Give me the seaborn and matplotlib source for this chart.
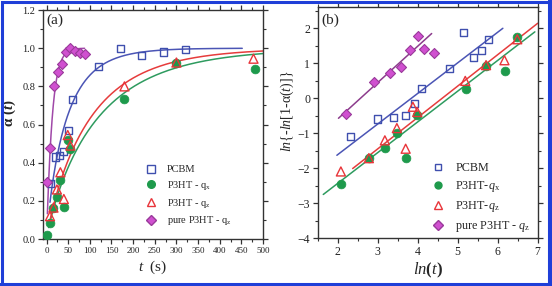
import numpy as np
import pandas as pd
import matplotlib
matplotlib.use("Agg")
import matplotlib.pyplot as plt
import seaborn as sns
from matplotlib.lines import Line2D
from matplotlib.patches import Rectangle
from matplotlib.ticker import MultipleLocator

# ---------------- data: panel (a) ----------------
pcbm_t = [10, 20, 30, 40, 50, 60, 120, 170, 220, 270, 320]
pcbm_a = [0.29, 0.43, 0.44, 0.46, 0.57, 0.73, 0.905, 1.0, 0.96, 0.98, 0.995]
qx_t = [0, 8, 16, 24, 32, 40, 49, 54, 180, 300, 482]
qx_a = [0.02, 0.085, 0.165, 0.22, 0.31, 0.17, 0.52, 0.47, 0.735, 0.925, 0.89]
qz_t = [8, 16, 24, 32, 40, 49, 55, 180, 300, 478]
qz_a = [0.12, 0.165, 0.26, 0.35, 0.21, 0.545, 0.49, 0.80, 0.925, 0.945]
pure_t = [0, 9, 18, 27, 36, 45, 55, 65, 77, 88]
pure_a = [0.30, 0.475, 0.80, 0.875, 0.915, 0.98, 1.0, 0.983, 0.975, 0.972]

# ---------------- data: panel (b) ----------------
pcbm_lnt = [2.31, 3.0, 3.39, 3.70, 3.92, 4.10, 4.79, 5.14, 5.39, 5.60, 5.77]
pcbm_y = [-1.10, -0.59, -0.54, -0.50, -0.16, 0.29, 0.86, 1.89, 1.17, 1.38, 1.67]
qx_lnt = [2.08, 2.78, 3.18, 3.48, 3.70, 3.99, 5.20, 5.70, 6.18, 6.49]
qx_y = [-2.46, -1.70, -1.41, -1.00, -1.71, -0.47, 0.26, 0.93, 0.79, 1.76]
qz_lnt = [2.08, 2.78, 3.18, 3.48, 3.70, 3.88, 3.99, 5.19, 5.71, 6.17, 6.49]
qz_y = [-2.09, -1.71, -1.20, -0.85, -1.44, -0.24, -0.39, 0.50, 0.95, 1.09, 1.69]
pure_lnt = [2.21, 2.91, 3.31, 3.58, 3.81, 4.00, 4.17, 4.41]
pure_y = [-0.45, 0.47, 0.73, 0.90, 1.38, 1.79, 1.40, 1.30]

# Avrami fit parameters (slope n, intercept ln k) (b) lines
series = ["PCBM", "P3HT-qx", "P3HT-qz", "pure P3HT-qz"]
avrami_n = [0.875, 0.879, 0.898, 1.04]
avrami_lnk = [-3.36, -4.19, -4.14, -2.67]
curve_tmin = [8, 5, 5, 2]
curve_tmax = [452, 500, 500, 88]
line_xmin = [1.98, 1.64, 2.375, 2.02]
line_xmax = [6.13, 6.93, 7.0, 4.35]

legend_a = ["PCBM", r"P3HT - q$_\mathrm{x}$", r"P3HT - q$_\mathrm{z}$", r"pure P3HT - q$_\mathrm{z}$"]
legend_b = ["PCBM", r"P3HT-$q_\mathrm{x}$", r"P3HT-$q_\mathrm{z}$", r"pure P3HT - $q_\mathrm{z}$"]

# ---------------- style ----------------
sns.set_style("ticks")
plt.rcParams["font.family"] = ["Liberation Serif", "DejaVu Serif"]
plt.rcParams["mathtext.fontset"] = "custom"
plt.rcParams["mathtext.rm"] = "Liberation Serif"
plt.rcParams["mathtext.it"] = "Liberation Serif:italic"
plt.rcParams["mathtext.bf"] = "Liberation Serif:bold"
plt.rcParams["mathtext.bfit"] = "Liberation Serif:bold:italic"

blue = "#3f4fae"
green = "#1e9a4c"
red = "#e8353a"
mag_face = "#d050d0"
mag_edge = "#993a9a"
line_cols = ["#4b55b5", "#2e9b5f", "#e63c3c", "#a048a8"]
line_cols_b = ["#4b55b5", "#2e9b5f", "#e63c3c", "#8c3c8c"]

fig = plt.figure(figsize=(5.52, 2.86), dpi=100)
fig.patch.set_facecolor("white")
axa = fig.add_axes([0.078, 0.164, 0.3985, 0.801])
axb = fig.add_axes([0.5755, 0.167, 0.3985, 0.807])

mstyles = [
    dict(marker="s", s=26, facecolor="none", edgecolor=blue, linewidth=1.0),
    dict(marker="o", s=40, facecolor=green, edgecolor=green, linewidth=0.5),
    dict(marker="^", s=42, facecolor="none", edgecolor=red, linewidth=1.0),
    dict(marker="D", s=26, facecolor=mag_face, edgecolor=mag_edge, linewidth=0.8),
]

# ---------------- panel (a) ----------------
for i in range(4):
    tt = np.linspace(curve_tmin[i], curve_tmax[i], 300)
    aa = 1 - np.exp(-np.exp(avrami_lnk[i] + avrami_n[i] * np.log(tt)))
    sns.lineplot(x=tt, y=aa, ax=axa, color=line_cols[i], linewidth=1.1, legend=False)

a_sets = [(pcbm_t, pcbm_a), (qx_t, qx_a), (qz_t, qz_a), (pure_t, pure_a)]
for (xs, ys), st in zip(a_sets, mstyles):
    sns.scatterplot(x=xs, y=ys, ax=axa, zorder=3, legend=False, **st)

axa.set_xlim(-8, 500)
axa.set_ylim(0, 1.2)
axa.xaxis.set_major_locator(MultipleLocator(50))
axa.xaxis.set_minor_locator(MultipleLocator(25))
axa.yaxis.set_major_locator(MultipleLocator(0.2))
axa.yaxis.set_minor_locator(MultipleLocator(0.1))
axa.set_yticks([0, 0.2, 0.4, 0.6, 0.8, 1.0, 1.2])
axa.set_yticklabels(["0.0", "0.2", "0.4", "0.6", "0.8", "1.0", "1.2"])
axa.tick_params(axis="x", labelsize=6.5)
axa.tick_params(axis="y", labelsize=7.5)
axa.text(0.015, 0.985, "(a)", transform=axa.transAxes, fontsize=11, va="top", ha="left")
axa.set_xlabel(r"$t$" + "  (s)", fontsize=11, labelpad=3)
axa.set_ylabel(r"$\mathbf{\alpha}$ $\mathbf{(}\mathbfit{t}\mathbf{)}$", fontsize=11)
axa.yaxis.set_label_coords(-0.112, 0.55)

handles_a = []
for st in mstyles:
    handles_a.append(Line2D([], [], linestyle="none", marker=st["marker"],
                            markersize=5.5 if st["marker"] != "^" else 6.3,
                            markerfacecolor=st["facecolor"], markeredgecolor=st["edgecolor"],
                            markeredgewidth=1.0))
axa.legend(handles_a, legend_a, loc="upper left", bbox_to_anchor=(0.427, 0.355), frameon=False,
           fontsize=7.5, handletextpad=0.95, labelspacing=0.45, handlelength=1.2, borderpad=0.2)

# ---------------- panel (b) ----------------
for i in range(4):
    xx = np.linspace(line_xmin[i], line_xmax[i], 50)
    yy = avrami_lnk[i] + avrami_n[i] * xx
    sns.lineplot(x=xx, y=yy, ax=axb, color=line_cols_b[i], linewidth=1.1, legend=False)

b_sets = [(pcbm_lnt, pcbm_y), (qx_lnt, qx_y), (qz_lnt, qz_y), (pure_lnt, pure_y)]
for (xs, ys), st in zip(b_sets, mstyles):
    sns.scatterplot(x=xs, y=ys, ax=axb, zorder=3, legend=False, **st)

axb.set_xlim(1.5, 7)
axb.set_ylim(-4, 2.6)
axb.xaxis.set_major_locator(MultipleLocator(1))
axb.xaxis.set_minor_locator(MultipleLocator(0.5))
axb.yaxis.set_major_locator(MultipleLocator(1))
axb.yaxis.set_minor_locator(MultipleLocator(0.5))
axb.set_xticks([2, 3, 4, 5, 6, 7])
axb.set_yticks([-4, -3, -2, -1, 0, 1, 2])
axb.tick_params(axis="both", labelsize=8.5)
axb.text(0.015, 0.975, "(b)", transform=axb.transAxes, fontsize=11, va="top", ha="left")
axb.set_xlabel(r"$ln$" + r"$\mathbf{(}$" + r"$t$" + r"$\mathbf{)}$", fontsize=12, labelpad=2)
axb.set_ylabel(r"$ln$" + "{-" + r"$ln$" + "[1-α(" + r"$t$" + ")]}", fontsize=10)
axb.yaxis.set_label_coords(-0.1, 0.55)

handles_b = []
for st in mstyles:
    handles_b.append(Line2D([], [], linestyle="none", marker=st["marker"],
                            markersize=5.0 if st["marker"] != "^" else 6.0,
                            markerfacecolor=st["facecolor"], markeredgecolor=st["edgecolor"],
                            markeredgewidth=1.0))
axb.legend(handles_b, legend_b, loc="upper left", bbox_to_anchor=(0.474, 0.365), frameon=False,
           fontsize=8.7, handletextpad=0.85, labelspacing=0.4, handlelength=1.2, borderpad=0.2)

for ax in (axa, axb):
    for sp in ax.spines.values():
        sp.set_visible(True)
        sp.set_linewidth(1.0)
        sp.set_color("#333333")
    ax.tick_params(which="both", direction="out", top=True, right=True, colors="#333333",
                   labelcolor="#222222")
    ax.tick_params(which="major", length=3.5, width=0.9)
    ax.tick_params(which="minor", length=2, width=0.8)
    ax.tick_params(axis="x", which="both", labeltop=False, pad=2)
    ax.tick_params(axis="y", which="both", labelright=False, pad=2)

# blue frame around the figure
fig.patches.append(Rectangle((0.003, 0.008), 0.991, 0.985, transform=fig.transFigure,
                             fill=False, edgecolor="#1f3fd8", linewidth=2.2, zorder=10))
fig.patches.append(Rectangle((0.0, 0.0), 1.0, 0.012, transform=fig.transFigure,
                             facecolor="#1f3fd8", edgecolor="none", zorder=10))
fig.patches.append(Rectangle((0.992, 0.0), 0.008, 1.0, transform=fig.transFigure,
                             facecolor="#1f3fd8", edgecolor="none", zorder=10))

fig.savefig("out.png", dpi=100)
